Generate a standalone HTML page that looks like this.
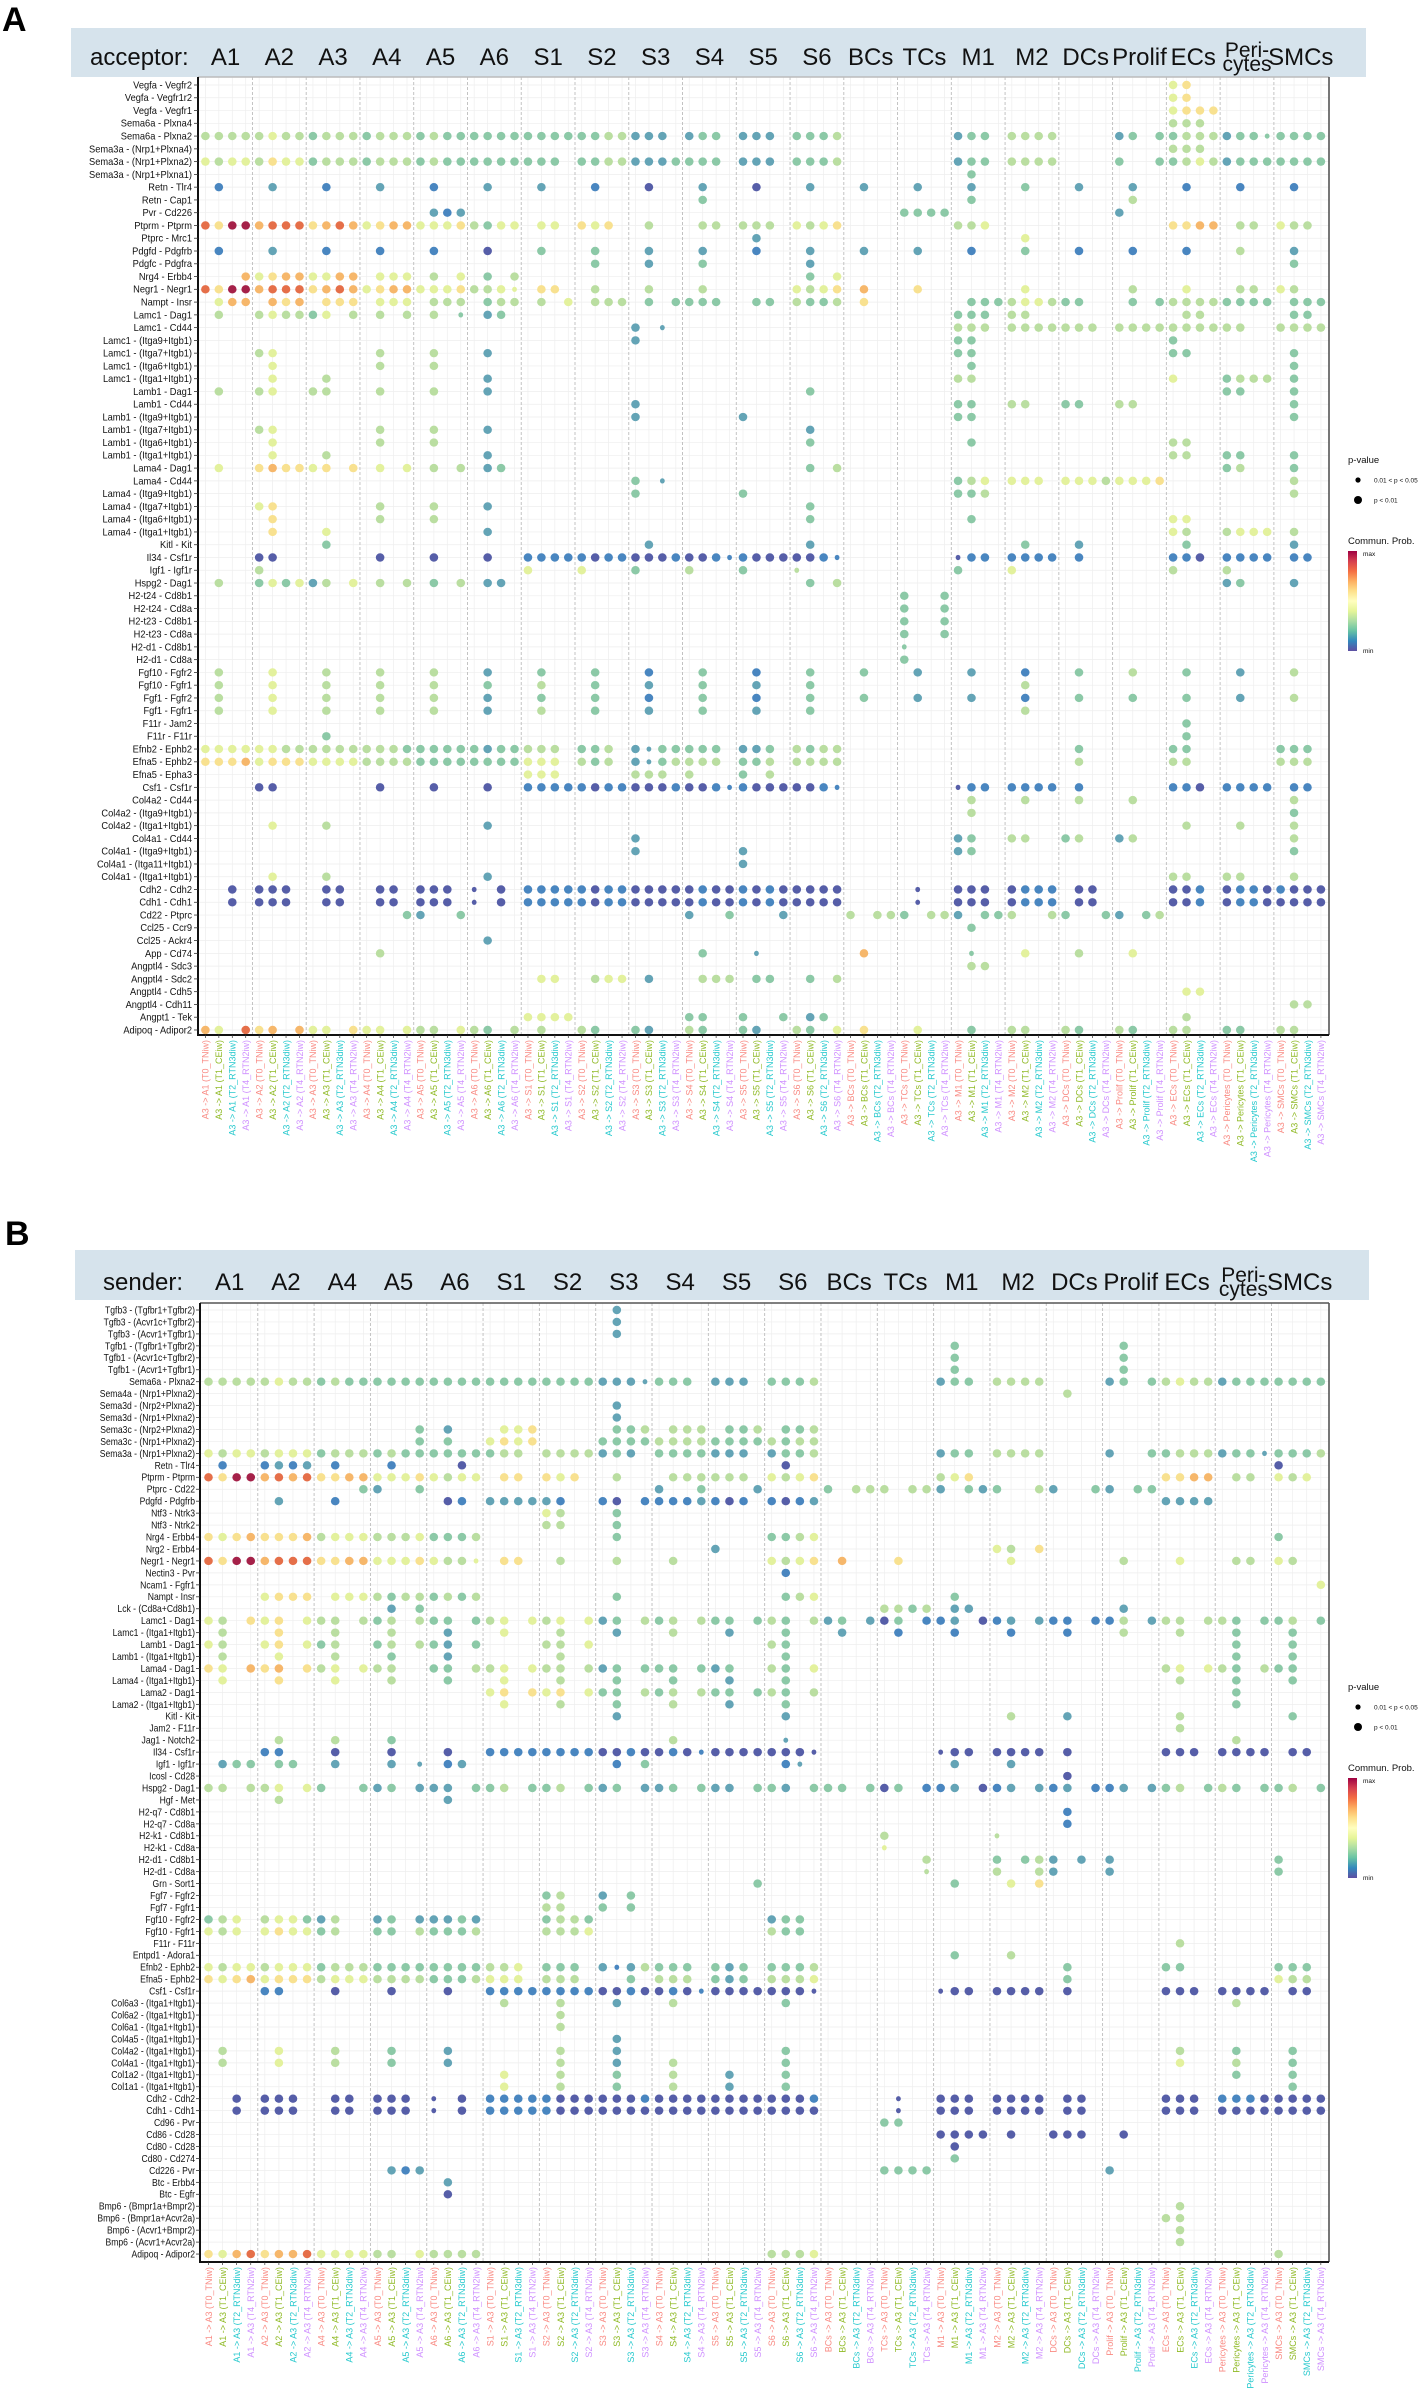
<!DOCTYPE html>
<html><head><meta charset="utf-8"><title>Cell communication dot plots</title>
<style>
html,body{margin:0;padding:0;background:#fff;}
svg{display:block;font-family:"Liberation Sans",Arial,sans-serif;}
</style></head>
<body>
<svg id="fig" width="1424" height="2396" viewBox="0 0 1424 2396" xmlns="http://www.w3.org/2000/svg">
<defs>
<linearGradient id="specgrad" x1="0" y1="1" x2="0" y2="0">
<stop offset="0" stop-color="#5e4fa2"/><stop offset="0.1" stop-color="#3288bd"/><stop offset="0.2" stop-color="#66c2a5"/><stop offset="0.3" stop-color="#abdda4"/><stop offset="0.4" stop-color="#e6f598"/><stop offset="0.5" stop-color="#ffffbf"/><stop offset="0.6" stop-color="#fee08b"/><stop offset="0.7" stop-color="#fdae61"/><stop offset="0.8" stop-color="#f46d43"/><stop offset="0.9" stop-color="#d53e4f"/><stop offset="1" stop-color="#9e0142"/>
</linearGradient>
</defs>
</svg>
<script>
// ---------- data ----------
const timepoints = ["T0_TNiw","T1_CEiw","T2_RTN3diw","T4_RTN2iw"];
const aGroups = ["A1","A2","A3","A4","A5","A6","S1","S2","S3","S4","S5","S6","BCs","TCs","M1","M2","DCs","Prolif","ECs","Pericytes","SMCs"];
const bGroups = ["A1","A2","A4","A5","A6","S1","S2","S3","S4","S5","S6","BCs","TCs","M1","M2","DCs","Prolif","ECs","Pericytes","SMCs"];
const aRowLabels = ["Vegfa - Vegfr2","Vegfa - Vegfr1r2","Vegfa - Vegfr1","Sema6a - Plxna4","Sema6a - Plxna2","Sema3a - (Nrp1+Plxna4)","Sema3a - (Nrp1+Plxna2)","Sema3a - (Nrp1+Plxna1)","Retn - Tlr4","Retn - Cap1","Pvr - Cd226","Ptprm - Ptprm","Ptprc - Mrc1","Pdgfd - Pdgfrb","Pdgfc - Pdgfra","Nrg4 - Erbb4","Negr1 - Negr1","Nampt - Insr","Lamc1 - Dag1","Lamc1 - Cd44","Lamc1 - (Itga9+Itgb1)","Lamc1 - (Itga7+Itgb1)","Lamc1 - (Itga6+Itgb1)","Lamc1 - (Itga1+Itgb1)","Lamb1 - Dag1","Lamb1 - Cd44","Lamb1 - (Itga9+Itgb1)","Lamb1 - (Itga7+Itgb1)","Lamb1 - (Itga6+Itgb1)","Lamb1 - (Itga1+Itgb1)","Lama4 - Dag1","Lama4 - Cd44","Lama4 - (Itga9+Itgb1)","Lama4 - (Itga7+Itgb1)","Lama4 - (Itga6+Itgb1)","Lama4 - (Itga1+Itgb1)","Kitl - Kit","Il34 - Csf1r","Igf1 - Igf1r","Hspg2 - Dag1","H2-t24 - Cd8b1","H2-t24 - Cd8a","H2-t23 - Cd8b1","H2-t23 - Cd8a","H2-d1 - Cd8b1","H2-d1 - Cd8a","Fgf10 - Fgfr2","Fgf10 - Fgfr1","Fgf1 - Fgfr2","Fgf1 - Fgfr1","F11r - Jam2","F11r - F11r","Efnb2 - Ephb2","Efna5 - Ephb2","Efna5 - Epha3","Csf1 - Csf1r","Col4a2 - Cd44","Col4a2 - (Itga9+Itgb1)","Col4a2 - (Itga1+Itgb1)","Col4a1 - Cd44","Col4a1 - (Itga9+Itgb1)","Col4a1 - (Itga11+Itgb1)","Col4a1 - (Itga1+Itgb1)","Cdh2 - Cdh2","Cdh1 - Cdh1","Cd22 - Ptprc","Ccl25 - Ccr9","Ccl25 - Ackr4","App - Cd74","Angptl4 - Sdc3","Angptl4 - Sdc2","Angptl4 - Cdh5","Angptl4 - Cdh11","Angpt1 - Tek","Adipoq - Adipor2"];
// cell strings: "startCol:values" ; digit = large dot (p<0.01) colour level 0..9, letter a..j = small dot level 0..9, '.' = none, '|' ignored
const aCells = [
"72:56","72:56","72:5666","72:444",
"0:4444|4544|3444|3444|3433|3333|3333|3344|222.|233 40:222 44:3334 56:233 60:4444 68:23.3|3444|233d|3333",
"72:444",
"0:5455|4655|3444|3444|3433|3333|333.|3344|2223|333 40:222 44:3334 56:233 60:4444 68:3..3|3454|2333|3333",
"57:3",
"1:1 5:2 9:1 13:2 17:1 21:2 25:2 29:1 33:0 37:2 41:0 45:2 49:2 53:2 57:2 61:3 65:2 69:2 73:1 77:1 81:1",
"37:3 57:3 69:4",
"17:212 52:3333 68:2",
"0:8699|7888|6787|5677|5556|4355 25:55 28:656 33:4 37:44 40:444 44:5456 56:445 72:6677 77:44 80:544",
"41:2 61:5",
"1:1 5:2 9:1 13:1 17:1 21:0 25:3 29:3 33:2 37:2 41:1 45:2 49:2 53:2 57:1 61:3 65:1 69:1 73:1 77:4 81:2",
"29:3 33:2 37:3 45:2 81:3",
"3:7|5677|5577 13:555 17:4.5 21:3.4 45:3.5",
"0:8699|7888|6787|5677|5556|445f 25:66 29:4 33:4 37:4 44:5456 49:7 53:6 61:5 69:4 73:5 77:44 80:54",
"1:577 5:767 9:666 13:555 17:444 21:344 25:4.5 29:444 33:3.3|333 41:33 44:4334 49:6 57:333 60:4554|33 69:3.3|4444|3333 81:333",
"1:4 4:4544|35.4 13:4 15:4 17:4 19:d 21:23 56:333 60:44 73:44 81:33",
"32:2.c 56:444 60:4444|444 68:4444|4444|44 80:4444",
"32:2 56:33 72:3",
"4:45 13:4 17:4 21:2 56:33 72:33 81:3",
"5:5 13:4 17:4 57:3 81:3",
"5:5 9:4 21:2 56:44 72:5 76:3444 81:3",
"1:4 4:45 8:44 13:4 17:4 21:2 45:3 76:33 81:3",
"32:2 56:33 60:44 64:33 68:44 81:3",
"32:2 40:2 56:33 81:3",
"4:45 13:4 17:4 21:2 45:2",
"5:5 13:4 17:4 45:3 57:3 72:44",
"5:5 9:4 21:2 72:44 76:33 81:3",
"1:5 4:6766|56.6 13:5 15:5 17:4 19:4 21:23 45:3 47:4 76:34 81:3",
"32:3.c 56:345 60:555 64:5554|5556 81:4",
"32:3 40:3 56:334 81:4",
"4:56 13:4 17:4 21:2 45:3",
"5:6 13:4 17:4 45:3 57:3 72:55",
"5:6 9:5 21:2 72:54 76:4555 81:4",
"9:3 33:2 45:2 61:3 65:2 73:3 81:2",
"4:00 13:0 17:0 21:0 24:1111|1011|0001|001b|1000|001b 56:a11 60:1111 65:1 72:110 76:1111 81:11",
"4:4 24:5 28:5 32:3 36:4 40:3 44:e 56:3 60:5 72:4 76:4",
"1:4 4:3535|24.5 13:4 15:4 17:3 19:4 21:22 45:3 47:4 76:23 81:2",
"52:3..3","52:3..3","52:3..3","52:3..3","52:d","52:3",
"1:4 5:5 9:4 13:4 17:4 21:2 25:3 29:3 33:1 37:3 41:1 45:3 49:3 53:2 57:2 61:1 65:3 69:4 73:3 77:2 81:4",
"1:4 5:5 9:4 13:4 17:4 21:3 25:4 29:3 33:2 37:3 41:2 45:3 61:4",
"1:4 5:5 9:4 13:4 17:4 21:2 25:3 29:3 33:1 37:3 41:1 45:3 49:3 53:2 57:2 61:1 65:3 69:3 73:3 77:2 81:4",
"1:4 5:5 9:4 13:4 17:4 21:2 25:4 29:3 33:2 37:3 41:2 45:3 61:4",
"73:3",
"9:3 73:3",
"0:5555|5544|4444|4443|3333|3233|444 28:334 32:2c33|333 40:223 44:4344 65:3 72:33 80:333",
"0:6667|5666|5555|4444|3333|3333|555 28:434 32:2c34|444 40:334 44:4444 65:4 72:44 80:444",
"24:555 32:444 36:4 40:3 42:4",
"4:00 13:0 17:0 21:0 24:1111|1011|0001|001b|1000|001b 56:a11 60:1111 65:1 72:110 76:1111 81:11",
"57:4 61:4 65:4 69:4 81:4",
"57:4 81:3",
"5:5 9:4 21:2 73:4 77:4 81:4",
"32:2 56:23 60:44 64:34 68:24 81:4",
"32:2 40:2 56:23 81:3",
"40:2",
"5:5 9:4 21:2 72:44 76:44 81:4",
"2:0 4:000 9:00 13:00 16:000 20:a 22:0 24:1111|1011|0000|0100|1010|0000 53:a 56:000 60:0111 65:00 72:001 76:0110|1000",
"2:0 4:000 9:00 13:00 16:000 20:a 22:0 24:1111|1011|0000|0100|1010|0000 53:a 56:000 60:0111 65:00 72:001 76:0110|0000",
"15:32 19:3 36:2 39:3 43:2 48:4 50:443 54:442 58:334 63:43 67:32 70:34",
"57:3",
"21:2",
"13:4 37:3 41:c 49:7 57:d 61:5 65:4 69:5",
"57:44",
"25:55 29:455 33:2 37:444 41:33 45:3 47:4",
"73:55",
"81:44",
"24:5555 36:33 40:3 43:3 45:23 73:4",
"0:75.8|67.7|55.6|55.5|44.5|43.4|.4 28:43 32:32 36:43 40:32 44:43.5 49:6 53:5 57:3 60:44 64:43 68:43 72:44 76:33 80:44"
];
const bRowLabels = ["Tgfb3 - (Tgfbr1+Tgfbr2)","Tgfb3 - (Acvr1c+Tgfbr2)","Tgfb3 - (Acvr1+Tgfbr1)","Tgfb1 - (Tgfbr1+Tgfbr2)","Tgfb1 - (Acvr1c+Tgfbr2)","Tgfb1 - (Acvr1+Tgfbr1)","Sema6a - Plxna2","Sema4a - (Nrp1+Plxna2)","Sema3d - (Nrp2+Plxna2)","Sema3d - (Nrp1+Plxna2)","Sema3c - (Nrp2+Plxna2)","Sema3c - (Nrp1+Plxna2)","Sema3a - (Nrp1+Plxna2)","Retn - Tlr4","Ptprm - Ptprm","Ptprc - Cd22","Pdgfd - Pdgfrb","Ntf3 - Ntrk3","Ntf3 - Ntrk2","Nrg4 - Erbb4","Nrg2 - Erbb4","Negr1 - Negr1","Nectin3 - Pvr","Ncam1 - Fgfr1","Nampt - Insr","Lck - (Cd8a+Cd8b1)","Lamc1 - Dag1","Lamc1 - (Itga1+Itgb1)","Lamb1 - Dag1","Lamb1 - (Itga1+Itgb1)","Lama4 - Dag1","Lama4 - (Itga1+Itgb1)","Lama2 - Dag1","Lama2 - (Itga1+Itgb1)","Kitl - Kit","Jam2 - F11r","Jag1 - Notch2","Il34 - Csf1r","Igf1 - Igf1r","Icosl - Cd28","Hspg2 - Dag1","Hgf - Met","H2-q7 - Cd8b1","H2-q7 - Cd8a","H2-k1 - Cd8b1","H2-k1 - Cd8a","H2-d1 - Cd8b1","H2-d1 - Cd8a","Grn - Sort1","Fgf7 - Fgfr2","Fgf7 - Fgfr1","Fgf10 - Fgfr2","Fgf10 - Fgfr1","F11r - F11r","Entpd1 - Adora1","Efnb2 - Ephb2","Efna5 - Ephb2","Csf1 - Csf1r","Col6a3 - (Itga1+Itgb1)","Col6a2 - (Itga1+Itgb1)","Col6a1 - (Itga1+Itgb1)","Col4a5 - (Itga1+Itgb1)","Col4a2 - (Itga1+Itgb1)","Col4a1 - (Itga1+Itgb1)","Col1a2 - (Itga1+Itgb1)","Col1a1 - (Itga1+Itgb1)","Cdh2 - Cdh2","Cdh1 - Cdh1","Cd96 - Pvr","Cd86 - Cd28","Cd80 - Cd28","Cd80 - Cd274","Cd226 - Pvr","Btc - Erbb4","Btc - Egfr","Bmp6 - (Bmpr1a+Bmpr2)","Bmp6 - (Bmpr1a+Acvr2a)","Bmp6 - (Acvr1+Bmpr2)","Bmp6 - (Acvr1+Acvr2a)","Adipoq - Adipor2"];
const bCells = [
"29:2","29:2","29:2","53:3 65:3","53:3 65:3","53:3 65:3",
"0:4444|4544|3433|3333|3333|3333|3333|222c|333. 36:222 40:3334 52:233 56:4444 64:23.3|4544|2333|3333",
"61:4","29:2","29:2",
"15:3.2 21:556 29:334 33:444 37:334 41:334",
"15:3.3 20:5656 28:3333|4444|3333|4344",
"0:5455|4555|3444|3433|3333|344.|4444|232.|3333|222. 40:2334 52:233 56:4444 64:2..3|3444|233c|3334",
"1:1 4:1212 9:1 13:1 18:0 41:0 76:0",
"0:8699|7878|6677|5556|5455 21:66 24:656 29:4 33:44|4444 40:5456 52:456 68:6677 73:44 76:545",
"11:32 15:3 32:2..3 39:2 44:3 46:444 50:442 54:323 59:42 63:32 66:33",
"5:2 9:1 17:01 20:2222|21 28:10.1|1112|101 40:1012 68:2222",
"24:54 29:3","24:44 29:3",
"0:6567|6667|4555|4445|3334 29:3 40:3345 76:3",
"36:2 56:54.6",
"0:8699|7888|6677|5556|544f 21:66 25:4 29:4 33:4 40:5456 45:7 49:6 57:5 65:4 69:5 73:44 76:54",
"41:1","79:5",
"4:5666 9:555|4344|3434 29:3 41:345 53:3",
"13:2 15:3 48:4434 53:22 65:2",
"0:54.6|56.5|44.4|34.4|33.3|45.5|45.5|23.4|34.4|33.3|43.4|23.2|03.1|12.0|12.2|11.1|14.2|44.4|43.3|34.3",
"1:4 5:6 9:4 13:4 17:2 21:5 25:4 29:2 33:4 37:2 41:3 45:2 49:1 53:1 57:1 61:1 65:4 69:4 73:3 77:3",
"0:54 4:56.534 12:34.432.3 24:44.5 40:43 73:3 77:3",
"1:4 5:5 9:4 13:3 17:2 25:4 41:3 73:3 77:3",
"0:65.7|67.6|45.5|44 16:33.4|45.5|44.4|23.3|33.3|23..|43.5 68:45.5|43.4|33",
"1:5 5:6 9:5 13:4 17:3 21:5 25:4 29:3 33:3 37:2 41:3 69:4 73:3 77:3",
"20:56.6|56.5|33.4|34.4|33.3|43.4 73:3",
"21:5 25:4 29:3 33:4 37:2 41:3 73:3",
"29:2 41:2 57:4 61:2 69:4 77:3",
"69:4",
"5:4 9:4 13:3 33:4 41:c 73:4",
"4:11 9:0 13:0 17:0 20:1111|1111|0010|010b|0000|000a 52:a00 56:0000 61:0 68:000 72:0000 77:00",
"1:233 5:33 9:2 13:2 15:c 17:12 29:1 31:3 41:1 42:c 53:2 57:2",
"61:0",
"0:44.4|45.5|3..3|23.2|22.3|34.3|34.3|23.2|23.3|22.3|32.3|33.3|03.1|12.0|12.2|12.1|12.2|34.3|43.3|34.3",
"5:4 17:2",
"61:1","61:1",
"48:4 56:e","48:f",
"51:4 56:3.342.2.2 76:3",
"51:e 56:4..42...2 76:3",
"39:3 53:3 57:5 59:6",
"24:34 28:2.3","24:44 28:3.3",
"0:345.|4553|24 12:23.2|2232 24:3443 40:233",
"0:545.|5655|34 12:33.4|3334 24:4445 40:433",
"69:4","53:3 57:4",
"0:5455|4555|3444|3333|3333|445 24:333 28:2b24|333 36:323 40:3334 61:3 68:33 76:333",
"0:6567|5666|4555|4444|3334|555 24:444 30:3 32:444 36:323 40:4445 61:3 76:544",
"4:11 9:0 13:0 17:0 20:1111|1111|0010|010b|0000|000a 52:a00 56:0000 61:0 68:000 72:0000 77:00",
"21:4 25:4 29:2 33:4 41:3 73:4",
"25:4","25:4","29:2",
"1:4 5:5 9:4 13:3 17:2 25:4 29:2 41:3 69:4 73:3 77:3",
"1:4 5:5 9:4 13:3 17:2 25:4 29:2 33:4 41:3 69:5 73:4 77:3",
"21:5 25:4 29:3 33:4 37:2 41:3 73:3 77:3",
"21:5 25:4 29:3 33:4 37:2 41:3 77:3",
"2:0 4:000 9:00 12:000 16:a 18:0 20:1111|1000|0001|0000|0000|0001 49:a 52:000 56:0000 61:00 68:000 72:1110|0000",
"2:0 4:000 9:00 12:000 16:a 18:0 20:1111|1000|0000|0000|0000|0000 49:a 52:000 56:0000 61:00 68:000 72:0000|0000",
"48:33",
"52:0000 57:0 60:000 65:0",
"53:0","53:3",
"13:212 48:3333 64:2",
"17:2","17:0",
"69:4","68:44","69:4","69:4",
"0:6578|6778|5555|44.5|4444 40:4445 76:4"
];

// ---------- drawing ----------
const NS = "http://www.w3.org/2000/svg";
const svg = document.getElementById("fig");
const LEVEL_COLORS = ["#4d55a3","#3f7fbd","#5c9fb2","#86c6a2","#b6dc9c","#e2f098","#f8df8a","#f5b363","#e4673f","#a0153f"];
const TP_COLORS = ["#f8766d","#7cae00","#00bfc4","#c77cff"];

function mk(tag, attrs, parent){
  const e = document.createElementNS(NS, tag);
  for (const k in attrs) e.setAttribute(k, attrs[k]);
  (parent || svg).appendChild(e);
  return e;
}
function parseRow(s){
  const out = [];
  s.trim().split(/\s+/).forEach(tok => {
    if (!tok) return;
    const p = tok.split(":");
    let c = +p[0];
    for (const ch of p[1]) {
      if (ch === "|") continue;
      if (ch !== ".") {
        if (ch >= "0" && ch <= "9") out.push({c: c, v: +ch, big: true});
        else out.push({c: c, v: ch.charCodeAt(0) - 97, big: false});
      }
      c++;
    }
  });
  return out;
}

function drawPanel(cfg){
  const nCols = cfg.groups.length * 4;
  const nRows = cfg.rows.length;
  const x = c => cfg.col0 + c * cfg.colStep;
  const y = r => cfg.row0 + r * cfg.rowStep;

  const g = mk("g", {});
  
  

  // panel letter
  const pl = mk("text", {x: cfg.letterX, y: cfg.letterY, "font-size": 34, "font-weight": "bold", fill: "#000"}, g);
  pl.textContent = cfg.letter;
  
  

  // header band
  const hb = mk("rect", {x: cfg.bandX0, y: cfg.bandY0, width: cfg.bandX1 - cfg.bandX0, height: cfg.bandY1 - cfg.bandY0, fill: "#d6e3ec"}, g);
  
  
  const ht = mk("text", {x: cfg.titleX, y: cfg.headBase, "font-size": 24, fill: "#111"}, g);
  ht.textContent = cfg.title;
  
  
  cfg.groups.forEach((name, gi) => {
    const cx = x(gi * 4 + 1.5);
    if (name === "Pericytes") {
      const t1 = mk("text", {x: cx, y: cfg.headBase - 8, "font-size": 21, "text-anchor": "middle", fill: "#111"}, g);
      t1.textContent = "Peri-";
      
      
      const t2 = mk("text", {x: cx, y: cfg.headBase + 6, "font-size": 21, "text-anchor": "middle", fill: "#111"}, g);
      t2.textContent = "cytes";
      
      
    } else {
      const t = mk("text", {x: cx, y: cfg.headBase, "font-size": 24, "text-anchor": "middle", fill: "#111"}, g);
      t.textContent = name;
      
      
    }
  });

  // grid
  const grid = mk("g", {stroke: "#eeeeee", "stroke-width": 0.7}, g);
  
  
  for (let r = 0; r < nRows; r++) mk("line", {x1: cfg.left, x2: cfg.right, y1: y(r), y2: y(r)}, grid);
  for (let c = 0; c < nCols; c++) mk("line", {x1: x(c), x2: x(c), y1: cfg.top, y2: cfg.bottom}, grid);
  for (let gi = 1; gi < cfg.groups.length; gi++) {
    const sx = x(gi * 4 - 0.5);
    const sep = mk("line", {x1: sx, x2: sx, y1: cfg.top, y2: cfg.bottom, stroke: "#bdbdbd", "stroke-width": 0.9, "stroke-dasharray": "3,2"}, g);
    
    
  }

  // frame
  mk("line", {x1: cfg.left, x2: cfg.right, y1: cfg.top, y2: cfg.top, stroke: cfg.topStroke, "stroke-width": 1.6}, g);
  mk("line", {x1: cfg.right, x2: cfg.right, y1: cfg.top, y2: cfg.bottom, stroke: "#555", "stroke-width": 1.6}, g);
  const ax = mk("line", {x1: cfg.left, x2: cfg.left, y1: cfg.top, y2: cfg.bottom + 1, stroke: "#111", "stroke-width": 2}, g);
  
  
  const bx = mk("line", {x1: cfg.left - 1, x2: cfg.right, y1: cfg.bottom, y2: cfg.bottom, stroke: "#111", "stroke-width": 2}, g);
  
  

  // row labels
  cfg.rows.forEach((lab, r) => {
    mk("line", {x1: cfg.left - 4, x2: cfg.left, y1: y(r), y2: y(r), stroke: "#333", "stroke-width": 0.8}, g);
    const tg = mk("g", {transform: "translate(" + cfg.labelEnd + "," + (y(r) + 3.4) + ") scale(" + cfg.labelScale + ",1)"}, g);
    const t = mk("text", {x: 0, y: 0, "font-size": 10, "text-anchor": "end", fill: "#111"}, tg);
    t.textContent = lab;
    
    
  });

  // column labels
  for (let c = 0; c < nCols; c++) {
    const gname = cfg.groups[Math.floor(c / 4)];
    const tp = timepoints[c % 4];
    const txt = cfg.sender ? (gname + " -> A3 (" + tp + ")") : ("A3 -> " + gname + " (" + tp + ")");
    mk("line", {x1: x(c), x2: x(c), y1: cfg.bottom, y2: cfg.bottom + 3, stroke: "#333", "stroke-width": 0.7}, g);
    const t = mk("text", {transform: "translate(" + (x(c) + 3.3) + "," + (cfg.bottom + 5) + ") rotate(-90)", "font-size": 9, "text-anchor": "end", fill: TP_COLORS[c % 4], "fill-opacity": 0.85}, g);
    t.textContent = txt;
    
    
  }

  // dots
  const dg = mk("g", {}, g);
  
  
  cfg.cells.forEach((rowStr, r) => {
    parseRow(rowStr).forEach(d => {
      const e = mk("ellipse", {cx: x(d.c), cy: y(r), rx: d.big ? 4.3 : 2.4, ry: d.big ? 4.2 : 2.6, fill: LEVEL_COLORS[d.v], "fill-opacity": 0.95}, dg);
      
      
    });
  });

  // legend
  const L = cfg.legendY;
  const lg = mk("g", {}, g);
  
  
  const pt = mk("text", {x: 1348, y: L, "font-size": 9.5, fill: "#111"}, lg);
  pt.textContent = "p-value";
  
  
  mk("circle", {cx: 1358, cy: L + 17, r: 2.6, fill: "#000"}, lg);
  mk("circle", {cx: 1358, cy: L + 37, r: 4, fill: "#000"}, lg);
  const p1 = mk("text", {x: 1374, y: L + 19.5, "font-size": 6.5, fill: "#111"}, lg);
  p1.textContent = "0.01 < p < 0.05";
  
  
  const p2 = mk("text", {x: 1374, y: L + 39.5, "font-size": 6.5, fill: "#111"}, lg);
  p2.textContent = "p < 0.01";
  
  
  const ct = mk("text", {x: 1348, y: L + 81, "font-size": 9.5, fill: "#111"}, lg);
  ct.textContent = "Commun. Prob.";
  
  
  const cb = mk("rect", {x: 1348, y: L + 88, width: 9, height: 100, fill: "url(#specgrad)"}, lg);
  
  
  const mx = mk("text", {x: 1363, y: L + 93, "font-size": 6.5, fill: "#111"}, lg);
  mx.textContent = "max";
  
  
  const mn = mk("text", {x: 1363, y: L + 190, "font-size": 6.5, fill: "#111"}, lg);
  mn.textContent = "min";
  
  
}

drawPanel({name: "panel-a", letter: "A", letterX: 2, letterY: 31, title: "acceptor:", titleX: 90, sender: false,
  groups: aGroups, rows: aRowLabels, cells: aCells,
  bandX0: 71, bandX1: 1366, bandY0: 28, bandY1: 77, headBase: 65,
  left: 198, right: 1329, top: 77, bottom: 1035, topStroke: "#bbb",
  col0: 205.4, colStep: 13.44, row0: 85, rowStep: 12.77,
  labelEnd: 192, labelScale: 0.93, legendY: 463});

drawPanel({name: "panel-b", letter: "B", letterX: 5, letterY: 1245, title: "sender:", titleX: 103, sender: true,
  groups: bGroups, rows: bRowLabels, cells: bCells,
  bandX0: 75, bandX1: 1369, bandY0: 1250, bandY1: 1300, headBase: 1290,
  left: 200, right: 1329, top: 1303, bottom: 2262, topStroke: "#555",
  col0: 208.5, colStep: 14.08, row0: 1310, rowStep: 11.95,
  labelEnd: 195, labelScale: 0.86, legendY: 1690});
</script>
</body></html>
